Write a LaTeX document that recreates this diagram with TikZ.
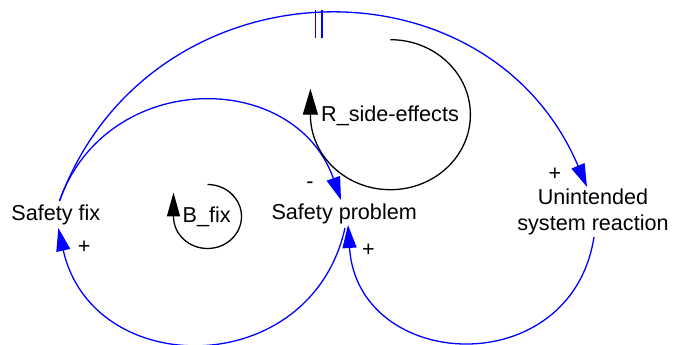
\documentclass[tikz,border=0pt]{standalone}
\usepackage{fontspec}
\setmainfont{Liberation Sans}
\usetikzlibrary{arrows.meta}
\begin{document}
\begin{tikzpicture}[x=1pt,y=1pt,
  txt/.style={inner sep=0pt, font=\fontsize{21.6}{26}\selectfont, anchor=base},
  link/.style={draw=blue, line width=1.3pt, -{Triangle[length=23pt,width=14pt]}},
  delaymark/.style={draw=blue, line width=1.6pt},
  loopline/.style={draw=black, line width=1.3pt},
  bloop/.style={loopline, -{Triangle[length=24pt,width=13pt]}},
  rloop/.style={loopline, -{Triangle[length=26pt,width=15pt]}},
  ]
\useasboundingbox (0,0) rectangle (673,345);

% variables
\node[txt] (fix) at (55.8,124) {Safety fix};
\node[txt] (prob) at (344.2,125) {Safety problem};
\node[txt, align=center] (unint) at (593,114) {Unintended\\system reaction};

% loop identifiers
\node[txt] (bfix) at (206.7,122) {B\_fix};
\node[txt] (rside) at (390,223) {R\_side-effects};

% causal links
\draw[link] ([shift={(3.7,20)}]fix.base) .. controls +(70.5:140) and +(109.5:140) .. ([shift={(-3.2,20)}]prob.base);
\draw[link] ([shift={(3.7,20)}]fix.base) .. controls +(69.8:257) and +(113:257) .. ([shift={(-6,44)}]unint.base) coordinate[pos=0.5] (dm);
\draw[link] ([shift={(0.8,-8)}]prob.base) .. controls +(-102.6:157) and +(-77.4:157) .. ([shift={(2.5,-7)}]fix.base);
\draw[link] ([shift={(1,-6)}]unint.base) .. controls +(-98.9:148) and +(-86.2:148) .. ([shift={(3.8,-5)}]prob.base);

% delay mark
\draw[delaymark] ([shift={(-3.3,5)}]dm) -- ([shift={(-3.3,-23.4)}]dm);
\draw[delaymark] ([shift={(3.3,5)}]dm) -- ([shift={(3.3,-23.4)}]dm);

% polarities
\node[txt] (pminus) at (310,156.7) {-};
\node[txt] (pfix) at (84.3,91.7) {+};
\node[txt] (punint) at (555,164.7) {+};
\node[txt] (pprob) at (368.5,88.9) {+};

% loop arrows
\draw[bloop] ([shift={(0.8,38.5)}]bfix.base) arc[start angle=90, end angle=-180, x radius=34, y radius=32] -- ++(0,24);
\draw[rloop] ([shift={(0.4,82.3)}]rside.base) arc[start angle=90, end angle=-180, x radius=80, y radius=75] -- ++(0,26);
\end{tikzpicture}
\end{document}
